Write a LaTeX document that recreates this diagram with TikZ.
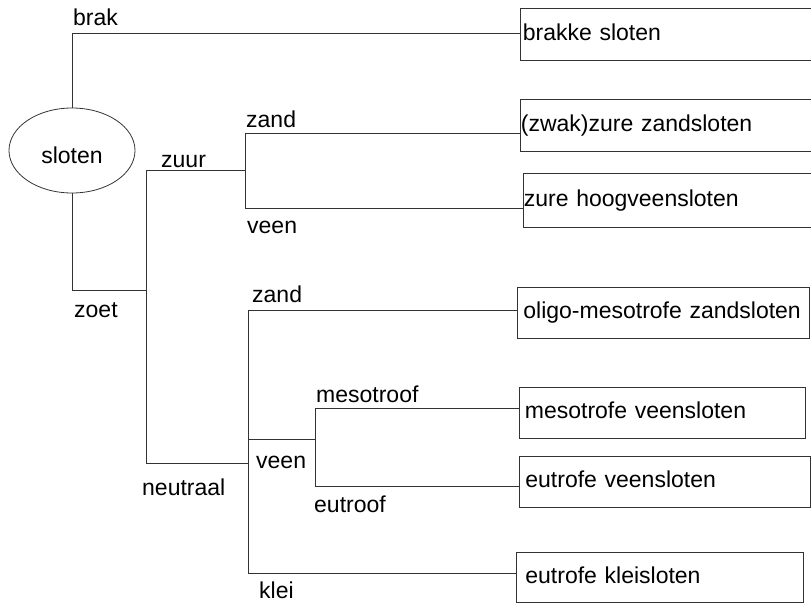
\documentclass[tikz,border=0pt]{standalone}
\usepackage{fontspec}
\setmainfont{Liberation Sans}
\usetikzlibrary{shapes.geometric}

\begin{document}
\begin{tikzpicture}[x=1pt,y=-1pt,
  font=\fontsize{23}{27}\selectfont,
  wire/.style={draw=black!80, line width=0.8pt},
  box/.style={draw=black!80, line width=0.8pt, rectangle, anchor=north west,
    align=left, inner ysep=2pt, text height=17pt, text depth=5pt},
  lbl/.style={anchor=base west, inner sep=0pt}]

\useasboundingbox (0,0) rectangle (811,603);
\clip (0,0) rectangle (811,603);

% root
\node[ellipse, draw=black!80, line width=0.8pt, minimum width=126pt, minimum height=85pt,
      inner sep=0pt, text height=25pt, text depth=0pt] (s) at (72,150.5) {sloten};

% end classes
\node[box, inner xsep=2.5pt, text width=295pt, minimum height=52pt] (b1) at (520,8)   {brakke sloten};
\node[box, inner xsep=0.5pt, text width=299pt, minimum height=52pt] (b2) at (520,99)  {(zwak)zure zandsloten};
\node[box, inner xsep=0.5pt, text width=296pt, minimum height=54pt] (b3) at (523,173) {zure hoogveensloten};
\node[box, inner xsep=6pt,   text width=280pt, minimum height=51pt] (b4) at (517,287) {oligo-mesotrofe zandsloten};
\node[box, inner xsep=5.5pt, text width=275pt, minimum height=51pt] (b5) at (519,387) {mesotrofe veensloten};
\node[box, inner xsep=6pt,   text width=279pt, minimum height=51pt] (b6) at (519,456) {eutrofe veensloten};
\node[box, inner xsep=9pt,   text width=269pt, minimum height=50pt] (b7) at (516,552) {eutrofe kleisloten};

% branch points
\coordinate (cBrak) at (72,33);
\coordinate (cZoet) at (146,290);
\coordinate (cZuur) at (146,170);
\coordinate (cNeut) at (146,463);
\coordinate (cZ1)   at (245,133);
\coordinate (cV1)   at (245,208);
\coordinate (cZ2)   at (248,310);
\coordinate (cV2)   at (248,439);
\coordinate (cK)    at (248,573);
\coordinate (cM)    at (315,408);
\coordinate (cE)    at (315,486);

% tree lines
\draw[wire] (s.north) -- (cBrak) -- (cBrak -| b1.west);
\draw[wire] (s.south) |- (cZoet);
\draw[wire] (cZuur) -- (cNeut);
\draw[wire] (cZuur) -- (cZuur -| cZ1);
\draw[wire] (cZ1) -- (cV1);
\draw[wire] (cZ1) -- (cZ1 -| b2.west);
\draw[wire] (cV1) -- (cV1 -| b3.west);
\draw[wire] (cNeut) -- (cNeut -| cZ2);
\draw[wire] (cZ2) -- (cK);
\draw[wire] (cZ2) -- (cZ2 -| b4.west);
\draw[wire] (cK) -- (cK -| b7.west);
\draw[wire] (cV2) -- (cV2 -| cM);
\draw[wire] (cM) -- (cE);
\draw[wire] (cM) -- (cM -| b5.west);
\draw[wire] (cE) -- (cE -| b6.west);

% branch labels
\node[lbl] (lBrak)  at (73,25)   {brak};
\node[lbl] (lZuur)  at (161,167) {zuur};
\node[lbl] (lZand1) at (246,127) {zand};
\node[lbl] (lVeen1) at (247,233) {veen};
\node[lbl] (lZoet)  at (74,317)  {zoet};
\node[lbl] (lZand2) at (252,302) {zand};
\node[lbl] (lNeut)  at (142,495) {neutraal};
\node[lbl] (lVeen2) at (256,468) {veen};
\node[lbl] (lMeso)  at (316,402) {mesotroof};
\node[lbl] (lEu)    at (314,512) {eutroof};
\node[lbl] (lKlei)  at (259,598) {klei};
\end{tikzpicture}
\end{document}
